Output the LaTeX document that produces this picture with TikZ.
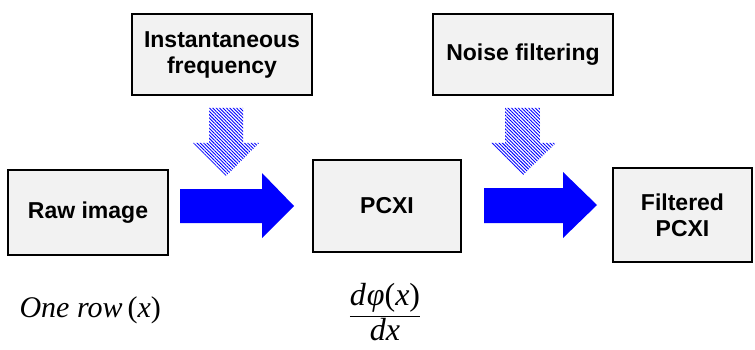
\documentclass[tikz,border=0pt]{standalone}
\usepackage{fontspec}
\setmainfont{Liberation Serif}
\newfontfamily\boxfont{Liberation Sans}
\usetikzlibrary{patterns.meta}
\definecolor{boxfill}{RGB}{242,242,242}
\definecolor{arrblue}{RGB}{0,0,255}
\begin{document}
\begin{tikzpicture}[x=1pt,y=-1pt,
  blk/.style={draw=black,line width=1.4pt,fill=boxfill,align=center,
    font=\boxfont\bfseries\fontsize{23}{26}\selectfont},
  bigarrow/.style={fill=arrblue,draw=none},
  hatcharrow/.style={draw=none,pattern={Lines[angle=-45,distance=2.4pt,line width=0.9pt]},pattern color=arrblue}]
\useasboundingbox (0,0) rectangle (755,350);
% boxes
\node[blk,minimum width=180pt,minimum height=81pt] (inst) at (222,54.5) {Instantaneous\\frequency};
\node[blk,minimum width=180pt,minimum height=81pt] (noise) at (523,54.5) {Noise filtering};
\node[blk,minimum width=160pt,minimum height=85pt] (raw) at (88,212.5) {Raw image};
\node[blk,minimum width=148pt,minimum height=92pt] (pcxi) at (387,206) {PCXI};
\node[blk,minimum width=139pt,minimum height=94pt] (filt) at (682.5,215) {Filtered\\PCXI};
% big arrows
\fill[bigarrow] (180,189) -- (262,189) -- (262,173) -- (294,206) -- (262,238) -- (262,223) -- (180,223) -- cycle;
\fill[bigarrow] (484,188) -- (563,188) -- (563,172) -- (597,205) -- (563,238) -- (563,223) -- (484,223) -- cycle;
% hatched arrows
\path[hatcharrow] (209,108) -- (243,108) -- (243,143) -- (259,143) -- (226,176) -- (193,143) -- (209,143) -- cycle;
\path[hatcharrow] (505,108) -- (540,108) -- (540,143) -- (556,143) -- (523,175) -- (491,143) -- (505,143) -- cycle;
% labels
\node[anchor=west,font=\fontsize{30}{34}\selectfont] (row) at (16,310) {\itshape One row\,{\upshape(}x{\upshape)}};
\node[font=\fontsize{32}{36}\selectfont] (deriv) at (385,312) {$\displaystyle\frac{\mbox{\itshape d\kern1ptφ}\mbox{(}\mbox{\itshape x}\mbox{)}}{\mbox{\itshape dx}}$};
\end{tikzpicture}
\end{document}
